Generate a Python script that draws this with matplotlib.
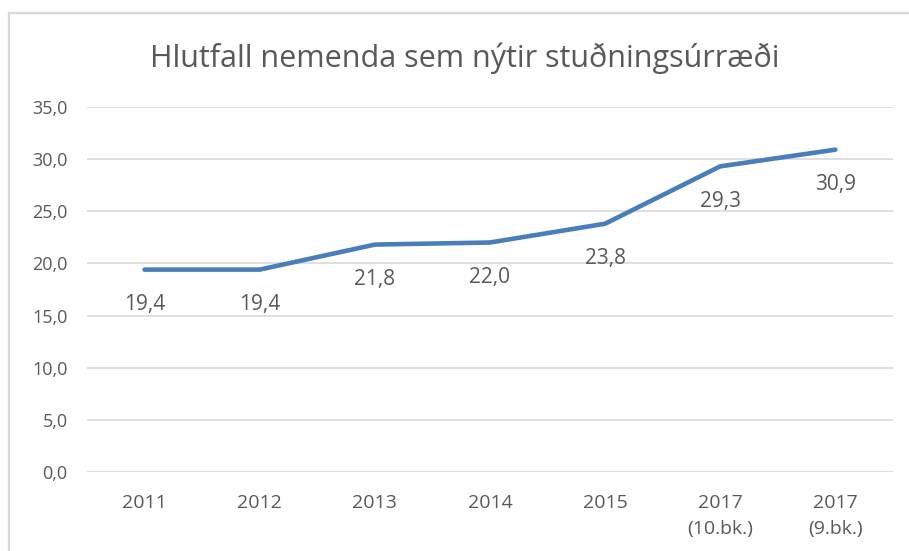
import matplotlib
matplotlib.use("Agg")
import matplotlib.pyplot as plt
from matplotlib.lines import Line2D

# data
categories = ["2011", "2012", "2013", "2014", "2015", "2017\n(10.bk.)", "2017\n(9.bk.)"]
values = [19.4, 19.4, 21.8, 22.0, 23.8, 29.3, 30.9]
y_ticks = [0, 5, 10, 15, 20, 25, 30, 35]

plt.rcParams['font.family'] = ['Open Sans', 'DejaVu Sans']
text_color = '#595959'

fig = plt.figure(figsize=(9.09, 5.51), dpi=100)
ax = fig.add_axes([0.0957, 0.1434, 0.8866, 0.6626])

x = list(range(len(categories)))
ax.plot(x, values, color='#4a7ebb', lw=3.3, solid_capstyle='round', zorder=3)

# data labels under each point
for xi, v in zip(x, values):
    ax.annotate(f"{v:.1f}".replace('.', ','), (xi, v), xytext=(0, -25),
                textcoords='offset points', ha='center', va='center',
                fontsize=15, color=text_color)

ax.set_xlim(-0.5, len(categories) - 0.5)
ax.set_ylim(0, 35)
ax.set_yticks(y_ticks)
ax.set_yticklabels([f"{t:.1f}".replace('.', ',') for t in y_ticks])
ax.set_xticks(x)
ax.set_xticklabels(categories, linespacing=1.55, va='top')
ax.tick_params(axis='both', length=0, labelcolor=text_color)
ax.tick_params(axis='y', labelsize=13, pad=14)
ax.tick_params(axis='x', labelsize=14, pad=16)
ax.grid(axis='y', color='#d9d9d9', lw=1.2)
ax.set_axisbelow(True)
for s in ax.spines.values():
    s.set_visible(False)

fig.text(0.511, 1 - 67 / 551, "Hlutfall nemenda sem nýtir stuðningsúrræði",
         ha='center', va='baseline', fontsize=22, color=text_color)

# outer chart frame
fx = 8.5 / 909
fy = 1 - 13 / 551
fig.add_artist(Line2D([fx, fx], [0, fy], transform=fig.transFigure, color='#d9d9d9', lw=1.6))
fig.add_artist(Line2D([fx, 1], [fy, fy], transform=fig.transFigure, color='#d9d9d9', lw=1.6))

fig.savefig("out.png", dpi=100, facecolor='white')
